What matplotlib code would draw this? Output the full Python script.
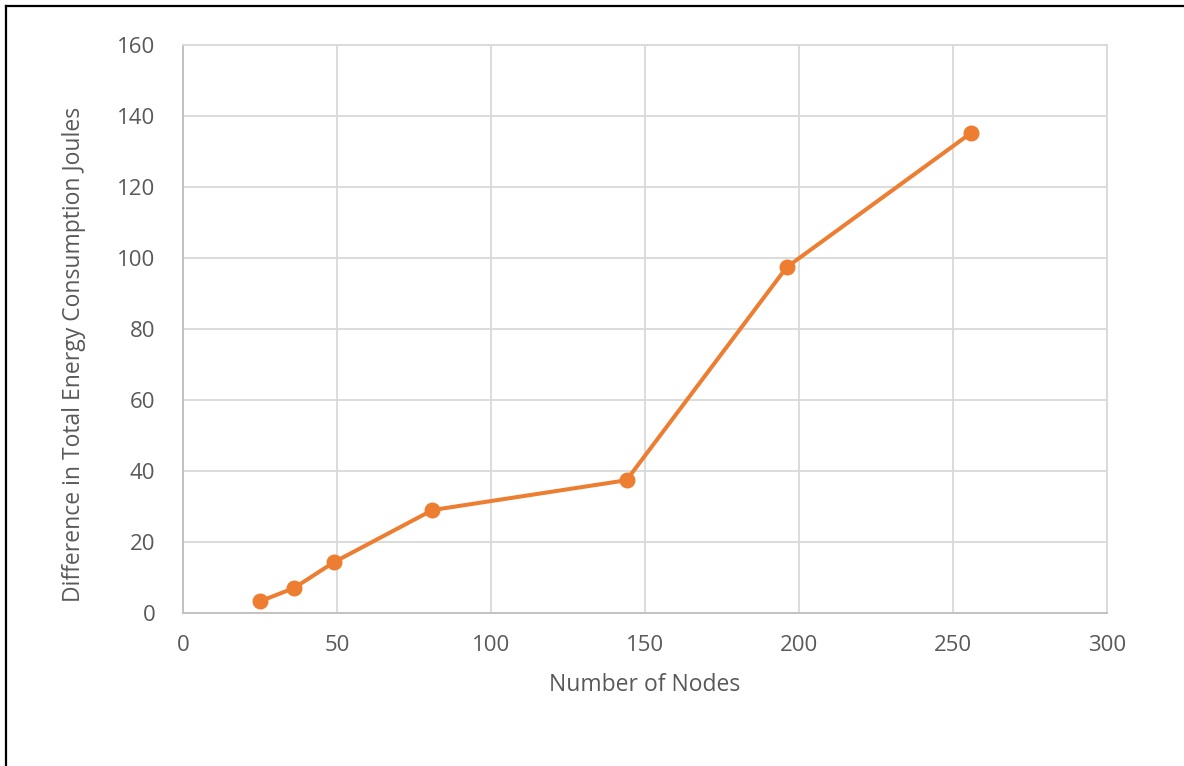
import matplotlib
matplotlib.use("Agg")
import matplotlib.pyplot as plt
from matplotlib.lines import Line2D

nodes = [25, 36, 49, 81, 144, 196, 256]
energy_diff = [3.3, 7.0, 14.3, 29.0, 37.4, 97.4, 135.3]
x_ticks = [0, 50, 100, 150, 200, 250, 300]
y_ticks = [0, 20, 40, 60, 80, 100, 120, 140, 160]

plt.rcParams['font.family'] = ['Open Sans', 'DejaVu Sans']

fig = plt.figure(figsize=(11.84, 7.66), dpi=100)
ax = fig.add_axes([183/1184, 1-613/766, (1107-183)/1184, (613-45)/766])

ax.plot(nodes, energy_diff, color='#ED7D31', linewidth=2.9, marker='o',
        markersize=10.5, markerfacecolor='#ED7D31', markeredgecolor='#ED7D31', zorder=3)

ax.set_xlim(0, 300)
ax.set_ylim(0, 160)
ax.set_xticks(x_ticks)
ax.set_yticks(y_ticks)
ax.grid(True, color='#D9D9D9', linewidth=1.3)
ax.set_axisbelow(True)
for s in ax.spines.values():
    s.set_color('#D9D9D9')
    s.set_linewidth(1.3)
ax.spines['left'].set_color('#BFBFBF')
ax.spines['bottom'].set_color('#BFBFBF')
ax.tick_params(length=0, labelsize=16, labelcolor='#595959')
ax.tick_params(axis='x', pad=16)
ax.tick_params(axis='y', pad=20)
ax.set_xlabel('Number of Nodes', fontsize=16.5, color='#595959', labelpad=12)
ax.set_ylabel('Difference in Total Energy Consumption Joules', fontsize=16.5, color='#595959', labelpad=22)
ax.yaxis.label.set_y(0.455)

# outer border (left and top visible)
fig.add_artist(Line2D([6/1184, 6/1184], [0, 1-6/766], transform=fig.transFigure, color='black', linewidth=1.6))
fig.add_artist(Line2D([6/1184, 1], [1-6/766, 1-6/766], transform=fig.transFigure, color='black', linewidth=1.6))

fig.savefig('out.png', dpi=100, facecolor='white')
